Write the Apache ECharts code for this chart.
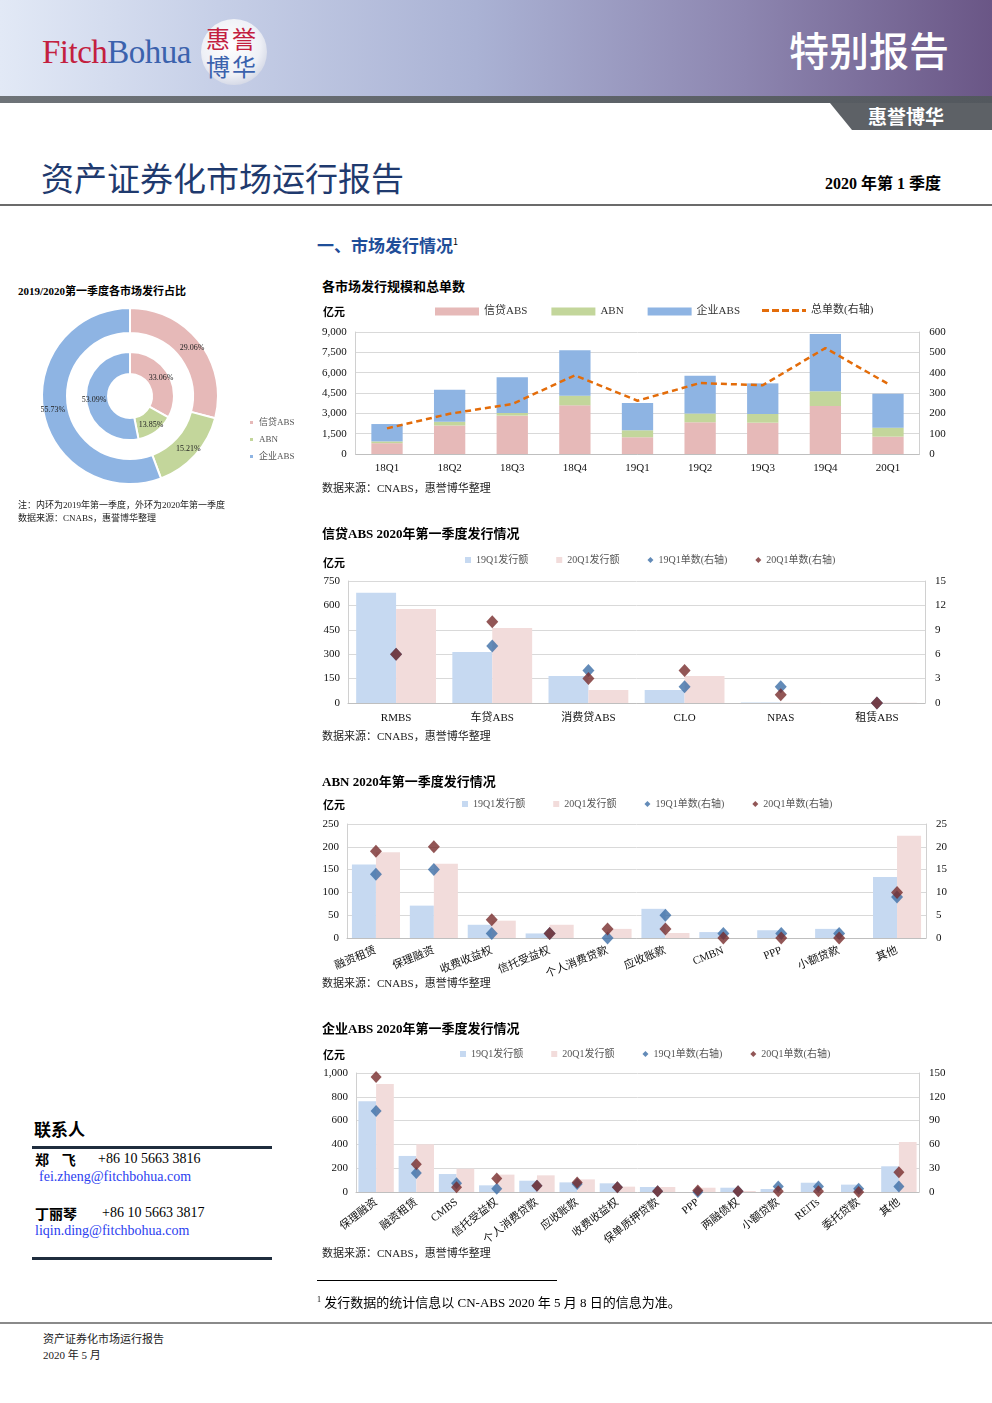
<!DOCTYPE html>
<html>
<head>
<meta charset="utf-8">
<script src="https://cdn.jsdelivr.net/npm/echarts@6/dist/echarts.min.js"></script>
<style>
  html, body { margin:0; padding:0; background:#fff; }
  body { width:992px; height:1403px; position:relative; overflow:hidden;
         font-family:'Liberation Serif','Noto Sans CJK SC',serif; color:#000; }
  .abs { position:absolute; white-space:nowrap; }
  .hdr { left:0; top:0; width:992px; height:96px;
         background:linear-gradient(to right,#e2e9f6 0%,#c6cfe7 22%,#aab2d4 48%,#8d86b0 75%,#6a5686 100%); }
  .band { left:0; top:96px; width:992px; height:7px; background:linear-gradient(to right,#6e7378,#53585e); }
  .ttl { font-family:'Noto Sans CJK SC',sans-serif; }
  .chartTitle { font-weight:bold; font-size:13px; line-height:13px; }
  .unit { font-weight:bold; font-size:11px; line-height:11px; font-family:'Noto Sans CJK SC',sans-serif; }
  .src { font-size:11px; line-height:11px; color:#222; }
  .chart { position:absolute; }
</style>
</head>
<body>
<!-- header -->
<div class="abs hdr"></div>
<div class="abs band"></div>
<div class="abs" style="left:42px;top:34px;font-size:33px;line-height:36px;font-family:'Liberation Serif',serif;letter-spacing:-0.5px;"><span style="color:#c3203f">Fitch</span><span style="color:#3b62ad">Bohua</span></div>
<div class="abs" style="left:201px;top:19px;width:66px;height:66px;border-radius:50%;background:radial-gradient(circle at 45% 40%,#ffffff 0%,#eef0f6 55%,#c9cedf 85%,#aeb5cc 100%);"></div>
<div class="abs ttl" style="left:206px;top:25px;font-size:24px;line-height:26px;color:#c3203f;letter-spacing:2px;">惠誉</div>
<div class="abs ttl" style="left:206px;top:53px;font-size:24px;line-height:26px;color:#3b62ad;letter-spacing:2px;">博华</div>
<div class="abs ttl" style="left:789px;top:27px;font-size:40px;line-height:44px;color:#fff;font-weight:500;">特别报告</div>
<div class="abs" style="left:830px;top:103px;width:162px;height:27px;background:#5d6166;clip-path:polygon(0 0,100% 0,100% 100%,22px 100%);"></div>
<div class="abs ttl" style="left:868px;top:105px;font-size:19px;line-height:22px;color:#fff;font-weight:bold;">惠誉博华</div>
<div class="abs ttl" style="left:41px;top:158px;font-size:33px;line-height:38px;color:#1f3a6e;">资产证券化市场运行报告</div>
<div class="abs" style="left:825px;top:173px;font-size:16px;line-height:19px;font-weight:bold;">2020 <span class="ttl">年第</span> 1 <span class="ttl">季度</span></div>
<div class="abs" style="left:0;top:204px;width:992px;height:2px;background:#6b6b6b;"></div>

<div class="abs ttl" style="left:317px;top:232px;font-size:17px;line-height:20px;font-weight:bold;color:#1f4e99;">一、市场发行情况<sup style="font-size:9px;font-weight:normal;color:#000;">1</sup></div>

<!-- donut -->
<div class="abs" style="left:18px;top:284px;font-size:11px;line-height:12px;font-weight:bold;">2019/2020<span class="ttl">第一季度各市场发行占比</span></div>
<div id="pie" class="chart" style="left:0;top:270px;width:310px;height:230px;"></div>
<div class="abs" style="left:18px;top:500px;font-size:9px;line-height:10px;color:#222;">注：内环为2019年第一季度，外环为2020年第一季度</div>
<div class="abs" style="left:18px;top:513px;font-size:9px;line-height:10px;color:#222;">数据来源：CNABS，惠誉博华整理</div>

<!-- chart 1 -->
<div id="c1" class="chart" style="left:300px;top:295px;width:692px;height:190px;"></div>
<div class="abs chartTitle" style="left:322px;top:279px;"><span class="ttl">各市场发行规模和总单数</span></div>
<div class="abs unit" style="left:323px;top:306px;">亿元</div>
<div class="abs src" style="left:322px;top:483px;">数据来源：CNABS，惠誉博华整理</div>

<!-- chart 2 -->
<div id="c2" class="chart" style="left:300px;top:545px;width:692px;height:185px;"></div>
<div class="abs chartTitle" style="left:322px;top:526px;">信贷ABS 2020<span class="ttl">年第一季度发行情况</span></div>
<div class="abs unit" style="left:323px;top:557px;">亿元</div>
<div class="abs src" style="left:322px;top:731px;">数据来源：CNABS，惠誉博华整理</div>

<!-- chart 3 -->
<div id="c3" class="chart" style="left:300px;top:790px;width:692px;height:210px;"></div>
<div class="abs chartTitle" style="left:322px;top:774px;">ABN 2020<span class="ttl">年第一季度发行情况</span></div>
<div class="abs unit" style="left:323px;top:799px;">亿元</div>
<div class="abs src" style="left:322px;top:978px;">数据来源：CNABS，惠誉博华整理</div>

<!-- chart 4 -->
<div id="c4" class="chart" style="left:300px;top:1040px;width:692px;height:215px;"></div>
<div class="abs chartTitle" style="left:322px;top:1021px;"><span class="ttl">企业</span>ABS 2020<span class="ttl">年第一季度发行情况</span></div>
<div class="abs unit" style="left:323px;top:1049px;">亿元</div>
<div class="abs src" style="left:322px;top:1248px;">数据来源：CNABS，惠誉博华整理</div>

<!-- contacts -->
<div class="abs ttl" style="left:34px;top:1119px;font-size:17px;line-height:20px;font-weight:bold;">联系人</div>
<div class="abs" style="left:32px;top:1146px;width:240px;height:3px;background:#1f2d3d;"></div>
<div class="abs" style="left:35px;top:1151px;font-size:14px;line-height:16px;"><b class="ttl">郑&nbsp;&nbsp;&nbsp;&nbsp;飞</b><span style="position:absolute;left:63px;">+86 10 5663 3816</span></div>
<div class="abs" style="left:39px;top:1169px;font-size:14px;line-height:16px;color:#2b3ef0;">fei.zheng@fitchbohua.com</div>
<div class="abs" style="left:35px;top:1205px;font-size:14px;line-height:16px;"><b class="ttl">丁丽琴</b><span style="position:absolute;left:67px;">+86 10 5663 3817</span></div>
<div class="abs" style="left:35px;top:1223px;font-size:14px;line-height:16px;color:#2b3ef0;">liqin.ding@fitchbohua.com</div>
<div class="abs" style="left:32px;top:1257px;width:240px;height:3px;background:#1f2d3d;"></div>

<!-- footnote / footer -->
<div class="abs" style="left:317px;top:1280px;width:240px;height:1px;background:#000;"></div>
<div class="abs" style="left:317px;top:1292px;font-size:13px;line-height:16px;"><sup style="font-size:8px;">1</sup> 发行数据的统计信息以 CN-ABS 2020 年 5 月 8 日的信息为准。</div>
<div class="abs" style="left:0;top:1322px;width:992px;height:2px;background:#8a8a8a;"></div>
<div class="abs" style="left:43px;top:1333px;font-size:11px;line-height:12px;color:#222;">资产证券化市场运行报告</div>
<div class="abs" style="left:43px;top:1349px;font-size:11px;line-height:12px;color:#222;">2020 年 5 月</div>

<script>
// ---------- data ----------
const pieNames = ['信贷ABS', 'ABN', '企业ABS'];
const pieInner2019 = [33.06, 13.85, 53.09];
const pieOuter2020 = [29.06, 15.21, 55.73];

const c1Categories = ['18Q1','18Q2','18Q3','18Q4','19Q1','19Q2','19Q3','19Q4','20Q1'];
const c1Credit = [800, 2110, 2830, 3590, 1230, 2340, 2310, 3540, 1280];
const c1ABN    = [130, 270, 200, 710, 520, 640, 640, 1080, 660];
const c1Corp   = [1280, 2360, 2630, 3350, 2010, 2800, 2260, 4230, 2510];
const c1Deals  = [126, 198, 246, 387, 262, 349, 338, 521, 345];

const c2Categories = ['RMBS','车贷ABS','消费贷ABS','CLO','NPAS','租赁ABS'];
const c2Amt19 = [677, 313, 166, 80, 3, 0];
const c2Amt20 = [578, 461, 80, 166, 2, 1];
const c2Cnt19 = [6, 7, 4, 2, 2, 0];
const c2Cnt20 = [6, 10, 3, 4, 1, 0];

const c3Categories = ['融资租赁','保理融资','收费收益权','信托受益权','个人消费贷款','应收账款','CMBN','PPP','小额贷款','其他'];
const c3Amt19 = [161, 71, 29, 10, 0, 64, 13, 17, 20, 134];
const c3Amt20 = [188, 163, 38, 29, 20, 11, 0, 0, 0, 224];
const c3Cnt19 = [14, 15, 1, 1, 0, 5, 1, 1, 1, 9];
const c3Cnt20 = [19, 20, 4, 1, 2, 2, 0, 0, 0, 10];

const c4Categories = ['保理融资','融资租赁','CMBS','信托受益权','个人消费贷款','应收账款','收费收益权','保单质押贷款','PPP','两融债权','小额贷款','REITs','委托贷款','其他'];
const c4Amt19 = [762, 303, 151, 56, 95, 81, 73, 42, 0, 36, 25, 78, 62, 216];
const c4Amt20 = [908, 401, 196, 146, 140, 106, 45, 42, 36, 8, 0, 0, 0, 420];
const c4Cnt19 = [102, 24, 11, 4, 8, 10, 6, 1, 0, 1, 7, 7, 4, 7];
const c4Cnt20 = [145, 35, 6, 17, 8, 12, 6, 1, 2, 1, 1, 1, 0, 25];

const legendNames = ['19Q1发行额', '20Q1发行额', '19Q1单数(右轴)', '20Q1单数(右轴)'];

// ---------- styles ----------
const FONT = "'Liberation Serif','Noto Sans CJK SC',serif";
const PINK = '#e6b9b8', GREEN = '#c3d69b', BLUE = '#8eb4e3', ORANGE = '#e36c0a';
const LBLUE = '#c6d9f1', LPINK = '#f2dcdb', DBLUE = '#3c6ea6', DRED = '#772c2c';
const GRID = '#d9d9d9';
const tick = { color:'#111', fontSize:11, fontFamily:FONT };
const DASH_ICON = 'path://M0,0h7v3h-7zM10,0h7v3h-7zM20,0h7v3h-7zM30,0h7v3h-7zM40,0h4v3h-4z';

function fmt(v){ return v.toLocaleString('en-US'); }

// ---------- donut ----------
echarts.init(document.getElementById('pie'), null, {renderer:'canvas'}).setOption({
  animation:false,
  color:[PINK, GREEN, BLUE],
  legend:{ orient:'vertical', left:243, top:143, itemWidth:5, itemHeight:5, itemGap:8,
           icon:'rect', textStyle:{ fontSize:9, color:'#555', fontFamily:FONT }, data:pieNames },
  series:[
    { type:'pie', radius:[22,44], center:[130,126], startAngle:90, silent:true,
      itemStyle:{ borderColor:'#fff', borderWidth:2 },
      label:{ position:'inside', fontSize:8, color:'#222', fontFamily:FONT, formatter:p=>p.value.toFixed(2)+'%' },
      data: pieNames.map((n,i)=>({name:n, value:pieInner2019[i]})) },
    { type:'pie', radius:[63,88], center:[130,126], startAngle:90, silent:true,
      itemStyle:{ borderColor:'#fff', borderWidth:2 },
      label:{ position:'inside', fontSize:8, color:'#222', fontFamily:FONT, formatter:p=>p.value.toFixed(2)+'%' },
      data: pieNames.map((n,i)=>({name:n, value:pieOuter2020[i]})) }
  ]
});

// ---------- chart 1 ----------
echarts.init(document.getElementById('c1')).setOption({
  animation:false,
  legend:[
    { left:130, top:6, itemWidth:44, itemHeight:8, itemGap:24,
      textStyle:{ fontSize:11, color:'#333', fontFamily:FONT },
      data:[{name:'信贷ABS',icon:'rect'},{name:'ABN',icon:'rect'},{name:'企业ABS',icon:'rect'}] },
    { left:457, top:5, itemWidth:44, itemHeight:3,
      textStyle:{ fontSize:11, color:'#333', fontFamily:FONT },
      data:[{name:'总单数(右轴)', icon:DASH_ICON, itemStyle:{color:ORANGE}}] }
  ],
  grid:{ left:55.7, top:37, width:563.6, height:122 },
  xAxis:{ type:'category', data:c1Categories, axisTick:{show:false},
          axisLine:{ lineStyle:{ color:'#bfbfbf' } }, axisLabel:{ ...tick, margin:9 } },
  yAxis:[
    { type:'value', min:0, max:9000, interval:1500, axisLine:{show:true, lineStyle:{color:'#d0d0d0'}},
      axisLabel:{ ...tick, formatter:fmt, margin:9 }, splitLine:{ lineStyle:{ color:GRID } } },
    { type:'value', min:0, max:600, interval:100, axisLine:{show:true, lineStyle:{color:'#d0d0d0'}},
      axisLabel:{ ...tick, margin:10 }, splitLine:{show:false} }
  ],
  series:[
    { name:'信贷ABS', type:'bar', stack:'a', barWidth:'50%', data:c1Credit, itemStyle:{color:PINK} },
    { name:'ABN', type:'bar', stack:'a', data:c1ABN, itemStyle:{color:GREEN} },
    { name:'企业ABS', type:'bar', stack:'a', data:c1Corp, itemStyle:{color:BLUE} },
    { name:'总单数(右轴)', type:'line', yAxisIndex:1, data:c1Deals, symbol:'none',
      lineStyle:{ color:ORANGE, width:2.5, type:[6,4] }, itemStyle:{color:ORANGE} }
  ]
});

// ---------- generic combo chart ----------
function combo(id, cats, a19, a20, n19, n20, cfg){
  echarts.init(document.getElementById(id)).setOption({
    animation:false,
    legend:{ left:cfg.legendLeft, top:cfg.legendTop, itemWidth:6, itemHeight:6, itemGap:cfg.legendGap,
             textStyle:{ fontSize:10, color:'#555', fontFamily:FONT },
             data:[{name:legendNames[0],icon:'rect'},{name:legendNames[1],icon:'rect'},
                   {name:legendNames[2],icon:'diamond'},{name:legendNames[3],icon:'diamond'}] },
    grid:cfg.grid,
    xAxis:{ type:'category', data:cats, axisTick:{show:false},
            axisLine:{ lineStyle:{ color:'#bfbfbf' } },
            axisLabel:{ ...tick, interval:0, rotate:cfg.rotate||0, margin:cfg.labelMargin||9 } },
    yAxis:[
      { type:'value', min:0, max:cfg.lmax, interval:cfg.lint, axisLine:{show:true, lineStyle:{color:'#d0d0d0'}},
        axisLabel:{ ...tick, formatter:fmt, margin:8 }, splitLine:{ lineStyle:{ color:GRID } } },
      { type:'value', min:0, max:cfg.rmax, interval:cfg.rint, axisLine:{show:true, lineStyle:{color:'#d0d0d0'}},
        axisLabel:{ ...tick, margin:10 }, splitLine:{show:false} }
    ],
    series:[
      { name:legendNames[0], type:'bar', data:a19, barGap:'0%', barCategoryGap:cfg.gap, itemStyle:{color:LBLUE} },
      { name:legendNames[1], type:'bar', data:a20, itemStyle:{color:LPINK} },
      { name:legendNames[2], type:'scatter', yAxisIndex:1, data:n19, symbol:'diamond', symbolSize:cfg.sym, itemStyle:{color:DBLUE} },
      { name:legendNames[3], type:'scatter', yAxisIndex:1, data:n20, symbol:'diamond', symbolSize:cfg.sym, itemStyle:{color:DRED} }
    ]
  });
}

combo('c2', c2Categories, c2Amt19, c2Amt20, c2Cnt19, c2Cnt20, {
  legendLeft:160, legendTop:5, legendGap:28,
  grid:{ left:48, top:36, width:577, height:122 },
  lmax:750, lint:150, rmax:15, rint:3, gap:'17%', sym:[12,13], labelMargin:10
});
combo('c3', c3Categories, c3Amt19, c3Amt20, c3Cnt19, c3Cnt20, {
  legendLeft:157, legendTop:4, legendGap:28,
  grid:{ left:47, top:34, width:579, height:114 },
  lmax:250, lint:50, rmax:25, rint:5, gap:'17%', sym:[12,13], rotate:22, labelMargin:12
});
combo('c4', c4Categories, c4Amt19, c4Amt20, c4Cnt19, c4Cnt20, {
  legendLeft:155, legendTop:4, legendGap:28,
  grid:{ left:56, top:33, width:563, height:119 },
  lmax:1000, lint:200, rmax:150, rint:30, gap:'12%', sym:[11,12], rotate:38, labelMargin:9
});
</script>
</body>
</html>
